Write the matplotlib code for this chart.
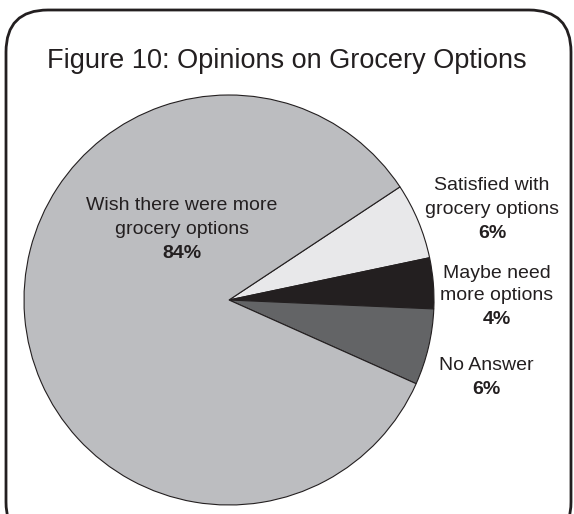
import matplotlib.pyplot as plt
from matplotlib.patches import FancyBboxPatch

plt.rcParams['font.family'] = ['Liberation Sans', 'DejaVu Sans']

labels = [['Satisfied with', 'grocery options'], ['Maybe need', 'more options'],
          ['No Answer'], ['Wish there were more', 'grocery options']]
shares = [6, 4, 6, 84]
colors = ['#e8e8ea', '#231f20', '#636466', '#bcbdc0']

W, H = 574, 514
fig = plt.figure(figsize=(W / 100, H / 100), dpi=100)
ax = fig.add_axes([0, 0, 1, 1])
ax.set_xlim(0, W)
ax.set_ylim(0, H)
ax.set_aspect('equal')
ax.axis('off')

# frame with rounded corners, running off the bottom edge
frame = FancyBboxPatch((6, -30), 565, 534, boxstyle='round,pad=0,rounding_size=42',
                       facecolor='white', edgecolor='#231f20', linewidth=2)
ax.add_patch(frame)

ax.text(W / 2, H - 61, 'Figure 10: Opinions on Grocery Options',
        ha='center', va='center', fontsize=19.5, color='#231f20')

ax.pie(shares, colors=colors, startangle=33.5, counterclock=False,
       center=(229, H - 300), radius=205,
       wedgeprops=dict(edgecolor='#231f20', linewidth=0.8))
ax.set_xlim(0, W)
ax.set_ylim(0, H)

# first-line position of each label, pixels from top
label_pos = [(492, 186), (497, 273), (486, 366), (182, 206)]
step = 23
for lines, val, (x, y) in zip(labels, shares, label_pos):
    for i, line in enumerate(lines):
        ax.text(x, H - y - i * step, line, ha='center', va='center',
                fontsize=14, color='#231f20')
    ax.text(x, H - y - len(lines) * step - 1, f'{val}%', ha='center',
            va='center', fontsize=14, fontweight='bold', color='#231f20')

fig.savefig('out.png', dpi=100)
